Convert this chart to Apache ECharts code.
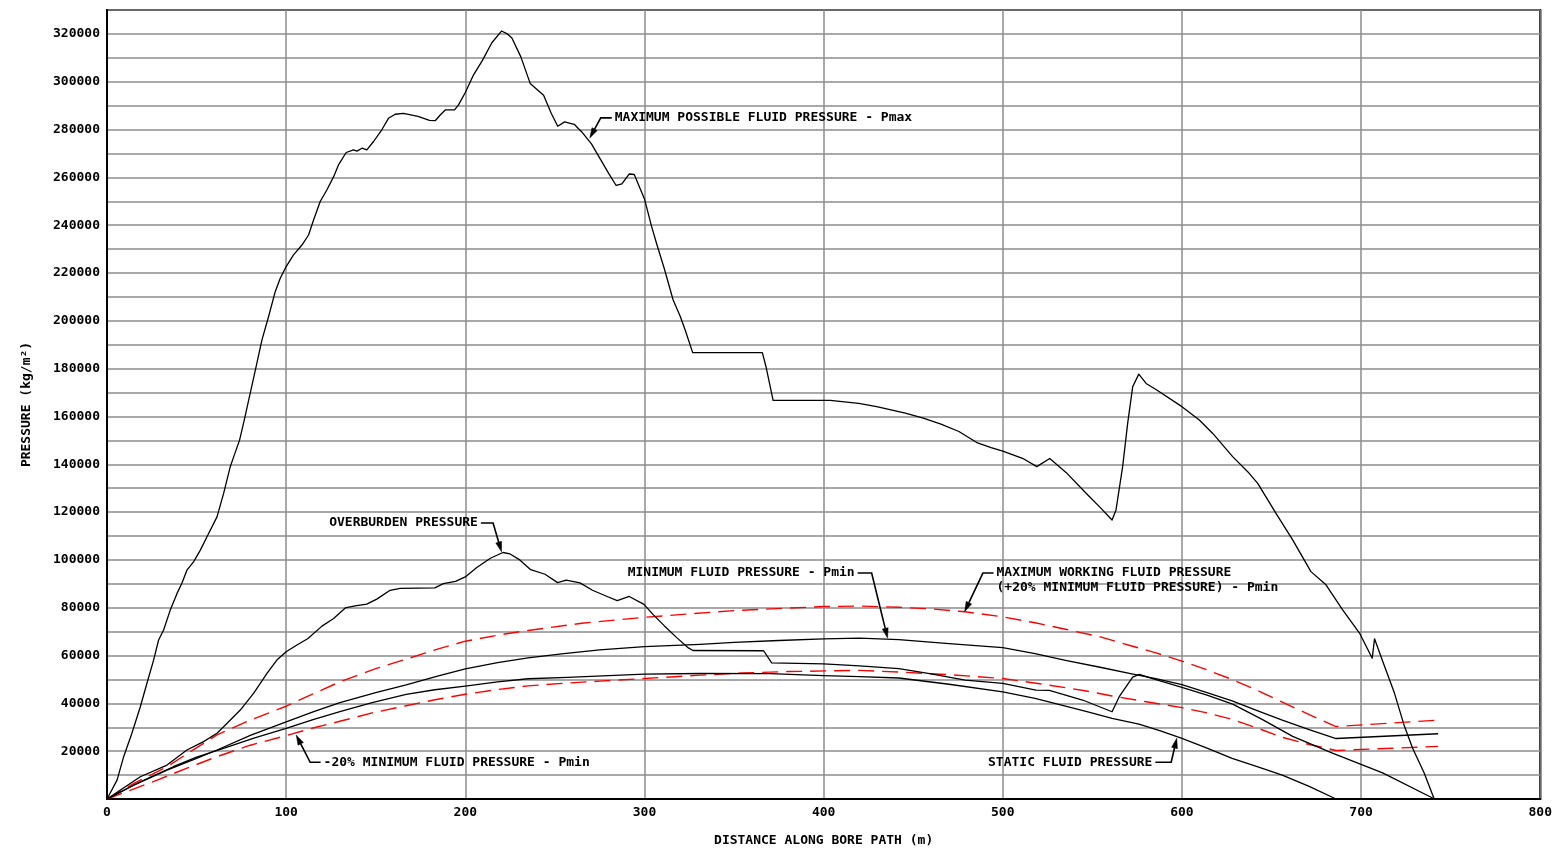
<!DOCTYPE html>
<html>
<head>
<meta charset="utf-8">
<style>html,body{margin:0;padding:0;background:#fff;}#c{width:1555px;height:856px;}</style>
<script src="https://cdn.jsdelivr.net/npm/echarts@6/dist/echarts.min.js"></script>
</head>
<body>
<div id="c"></div>
<script>
// ---- data (distance m, pressure kg/m2) ----
const pmax = [[0,0],[5.6,7900],[9.3,17700],[13.9,27500],[18.6,38600],[22.3,48400],[26,58100],[28.8,66500],[31.6,70700],[35.3,79000],[39.1,86000],[41.8,90200],[44.6,95700],[48.3,99200],[52.1,104100],[55.8,109700],[61.4,118000],[65.1,127800],[68.8,139000],[70.7,143100],[74,150100],[76.6,158500],[82.8,179400],[86.5,192000],[90.2,201800],[93.9,212200],[96.7,217800],[100,222700],[104.1,227600],[108.8,231700],[112.5,235900],[115.3,242200],[119,249900],[122.7,254700],[126.5,260300],[129.2,265200],[133.5,270400],[137.6,271500],[139.5,271000],[142.3,272200],[145,271500],[148.8,275000],[153.4,279900],[157.1,284700],[160.9,286400],[165.5,286800],[173.6,285500],[180,283800],[183.2,283700],[186,286100],[188.8,288200],[194,288200],[196.2,290300],[200,295500],[204.6,302900],[209.4,308700],[214.8,316300],[220.2,321200],[223.5,320000],[226,318300],[231,310400],[236.2,299300],[243.7,294300],[248,286700],[251.6,281400],[255.4,283200],[260.8,282200],[265,279000],[270.4,274000],[275.7,267200],[280,261700],[284.2,256600],[287.4,257300],[291.4,261400],[294.3,261200],[300,251000],[304,239400],[307,231700],[311,222000],[316,208700],[320,201800],[323,195500],[326.9,186700],[365.8,186700],[367.8,180900],[371.8,166700],[403.7,166700],[419.6,165500],[429.6,164100],[445.6,161400],[455.6,159300],[465.5,156800],[475.5,153700],[485.5,149100],[493.5,147000],[500,145500],[511,142500],[519,139000],[526.2,142400],[535.3,136600],[546.5,127900],[553.9,122300],[561,116700],[563.2,120900],[566.9,139000],[569.7,157100],[572.5,172400],[575.9,177700],[580,173800],[585.5,171300],[600,164100],[609.7,158500],[617.2,152900],[628.3,143200],[636.7,136900],[642.3,132000],[652.5,119500],[661.8,108400],[672,95100],[680.4,89600],[689.7,79100],[699.1,69400],[706.2,58900],[707.5,67000],[712.1,57500],[718.6,44300],[724.2,30400],[728.7,21300],[735.2,10900],[740.8,0]];

const overburden = [[0,0],[18.6,9300],[33.5,14200],[44.6,20500],[53.9,24000],[61.4,27500],[66.9,31600],[74.4,37200],[81.8,44200],[89.3,52500],[94.8,58100],[100,61600],[106,64400],[112,67000],[120,72300],[126.5,75500],[133,79900],[138.5,80800],[145,81500],[150.6,83600],[158,87300],[163.6,88100],[183,88300],[187.7,90100],[194.5,91000],[200,92900],[206.4,96800],[214,100700],[221,103100],[225,102500],[230.4,100000],[236.5,95900],[244.5,94000],[251.5,90500],[256.3,91500],[264,90400],[271,87300],[278.5,84900],[284.8,83000],[291.5,84700],[299.7,81400],[305,77000],[311,72500],[318,67500],[324.5,63200],[327,62100],[366.5,62000],[371,56900],[400,56500],[420,55700],[442,54500],[460,52300],[479,49700],[500,48400],[518.5,45500],[526,45400],[544.5,41400],[561,36500],[565,42800],[572.5,51000],[576.2,52100],[583.6,50300],[600,46700],[614,43400],[628.3,39700],[645,33200],[661.8,26200],[684,19200],[712,10900],[741,0]];

const pmin = [[0,0],[15,5800],[33.5,12100],[50,17000],[61.4,20500],[80,26600],[100,32300],[115,36400],[130,40300],[150,44500],[167,47700],[185,51500],[200,54400],[218,57000],[235,59000],[255,60800],[275,62400],[300,63700],[331,64700],[350,65500],[375,66300],[400,67000],[420,67300],[442,66700],[470,65000],[500,63300],[518,60800],[535,58000],[555,55000],[572,52300],[586,50200],[600,47800],[614,44500],[628,41000],[642,37000],[656,33000],[671,29000],[686,25300],[743,27300]];

const staticP = [[0,0],[18,7000],[37,13500],[50,17500],[65,21200],[82,25500],[100,29500],[115,33200],[130,36500],[148,40300],[167,43800],[183,45700],[200,47200],[218,49000],[235,50300],[257,50900],[280,51600],[300,52200],[331,52500],[370,52400],[400,51600],[420,51200],[442,50600],[470,48000],[500,44800],[518,42100],[535,38800],[548,36300],[561,33700],[576,31300],[588,28500],[600,25400],[614,21300],[628,17000],[642,13500],[656,10000],[671,5300],[686,0]];

const pminPlus20 = [[0,0],[15,6500],[33.5,13500],[47,20000],[61.4,26800],[80,33000],[100,38800],[115,44000],[130,49000],[150,54500],[167,58500],[185,62800],[200,66000],[218,68500],[235,70500],[265,73500],[300,76000],[350,78800],[400,80500],[420,80700],[442,80200],[460,79500],[479,78300],[500,76200],[518,73700],[535,71000],[555,67700],[572,64000],[586,61000],[600,57700],[614,54000],[628,50000],[642,45500],[656,40500],[671,35300],[686,30300],[743,33000]];

const pminMinus20 = [[0,0],[28,7900],[45,13000],[61.4,17700],[80,22500],[100,26500],[115,29700],[130,32500],[148,36000],[167,39000],[183,41500],[200,43800],[218,45800],[235,47300],[255,48400],[275,49300],[300,50400],[331,51800],[355,52700],[380,53300],[420,53800],[442,53100],[470,52000],[500,50400],[526,47600],[545,45400],[561,43100],[580,40700],[600,38200],[614,36000],[628,33300],[642,29700],[656,25800],[671,22800],[686,20300],[743,22000]];

// annotations: text anchor, leader corner, arrow tip (data space)
const notes = [
  {lines:['MAXIMUM POSSIBLE FLUID PRESSURE - Pmax'], at:[283.4,284900], align:'left', corner:[275.6,284900], tip:[269.5,276500]},
  {lines:['OVERBURDEN PRESSURE'], at:[207,115450], align:'right', corner:[215.5,115450], tip:[220.2,103400]},
  {lines:['MINIMUM FLUID PRESSURE - Pmin'], at:[417.3,94500], align:'right', corner:[426.8,94500], tip:[435.7,67300]},
  {lines:['MAXIMUM WORKING FLUID PRESSURE','(+20% MINIMUM FLUID PRESSURE) - Pmin'], at:[496.5,94500], align:'left', corner:[488.9,94500], tip:[478.7,78350]},
  {lines:['-20% MINIMUM FLUID PRESSURE - Pmin'], at:[120.9,15350], align:'left', corner:[113.4,15350], tip:[105.6,26770]},
  {lines:['STATIC FLUID PRESSURE'], at:[583.5,15350], align:'right', corner:[594,15350], tip:[597.1,25400]}
];

const FONT = 'bold 13px "DejaVu Sans Mono", "Liberation Mono", monospace';
const chart = echarts.init(document.getElementById('c'), null, {renderer:'canvas'});

function lineSeries(name, data, color, dashed){
  return {name, type:'line', data, symbol:'none', smooth:false,
    animation:false, lineStyle:{color, width: dashed?1.4:1.3, type: dashed?[16,8]:'solid', join:'round'}, z: dashed?3:4};
}

chart.setOption({
  animation:false,
  backgroundColor:'#fff',
  grid:{left:107, right:14, top:10, bottom:57, show:true, borderColor:'#000', borderWidth:2, containLabel:false},
  xAxis:{type:'value', min:0, max:800, interval:100,
    name:'DISTANCE ALONG BORE PATH (m)', nameLocation:'middle', nameGap:35,
    nameTextStyle:{fontFamily:'DejaVu Sans Mono', fontWeight:'bold', fontSize:13, color:'#000'},
    axisLine:{show:true, lineStyle:{color:'#000', width:2}}, axisTick:{show:false},
    axisLabel:{color:'#000', fontFamily:'DejaVu Sans Mono', fontWeight:'bold', fontSize:13, margin:7},
    splitLine:{show:true, lineStyle:{color:'#8c8c8c', width:1.5}}},
  yAxis:{type:'value', min:0, max:330000, interval:10000,
    name:'PRESSURE (kg/m²)', nameLocation:'middle', nameGap:74, nameRotate:90,
    nameTextStyle:{fontFamily:'DejaVu Sans Mono', fontWeight:'bold', fontSize:13, color:'#000'},
    axisLine:{show:true, lineStyle:{color:'#000', width:2}}, axisTick:{show:false},
    axisLabel:{color:'#000', fontFamily:'DejaVu Sans Mono', fontWeight:'bold', fontSize:13, margin:7,
      formatter: v => (v>0 && v%20000===0) ? String(v) : ''},
    splitLine:{show:true, lineStyle:{color:'#8c8c8c', width:1.5}}},
  series:[
    lineSeries('Pmax', pmax, '#000', false),
    lineSeries('Overburden', overburden, '#000', false),
    lineSeries('Pmin', pmin, '#000', false),
    lineSeries('Static', staticP, '#000', false),
    lineSeries('Pmin+20%', pminPlus20, '#ff0000', true),
    lineSeries('Pmin-20%', pminMinus20, '#ff0000', true)
  ]
});

// annotations built from data coordinates through the chart's scales
const els = [];
notes.forEach(n => {
  const a = chart.convertToPixel({gridIndex:0}, n.at);
  const c = chart.convertToPixel({gridIndex:0}, n.corner);
  const t = chart.convertToPixel({gridIndex:0}, n.tip);
  n.lines.forEach((s, i) => {
    els.push({type:'text', silent:true, z:10, style:{text:s, x:a[0], y:a[1] + i*15, font:FONT, fill:'#000',
      textAlign:n.align, textVerticalAlign:'middle'}});
  });
  const start = [a[0] + (n.align==='left' ? -3 : 3), a[1]];
  const dx = t[0]-c[0], dy = t[1]-c[1], L = Math.hypot(dx,dy);
  const ux = dx/L, uy = dy/L, px = -uy, py = ux;
  const al = 10, aw = 3;
  const base = [t[0]-ux*al, t[1]-uy*al];
  els.push({type:'polyline', silent:true, z:10, shape:{points:[start, c, base]}, style:{stroke:'#000', lineWidth:1.6, fill:null}});
  els.push({type:'polygon', silent:true, z:10, shape:{points:[t, [base[0]+px*aw, base[1]+py*aw], [base[0]-px*aw, base[1]-py*aw]]}, style:{fill:'#000', stroke:'#000', lineWidth:0.5}});
});
chart.setOption({graphic:{elements:els}});
</script>
</body>
</html>
